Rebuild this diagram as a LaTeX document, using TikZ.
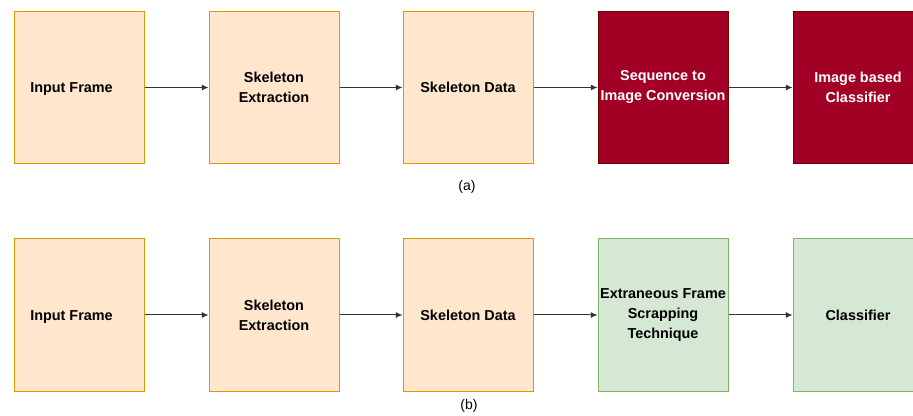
\documentclass[tikz,border=0pt]{standalone}
\usepackage{fontspec}
\setmainfont{Liberation Sans}
\usetikzlibrary{arrows.meta}
\definecolor{orfill}{HTML}{FFE6CC}
\definecolor{ordraw}{HTML}{D79B00}
\definecolor{rdfill}{HTML}{A20025}
\definecolor{rddraw}{HTML}{6F0000}
\definecolor{grfill}{HTML}{D5E8D4}
\definecolor{grdraw}{HTML}{82B366}
\definecolor{arr}{HTML}{333333}
\begin{document}
\begin{tikzpicture}[x=0.75pt,y=-0.75pt,
  box/.style={draw, line width=0.75pt, minimum width=97.5pt, minimum height=113.5pt, inner sep=0pt,
    align=center, font=\fontsize{10.8}{15}\selectfont\bfseries},
  orbox/.style={box, fill=orfill, draw=ordraw},
  rdbox/.style={box, fill=rdfill, draw=rddraw, text=white},
  grbox/.style={box, fill=grfill, draw=grdraw},
  txt/.style={font=\fontsize{10.8}{15}\selectfont\bfseries, align=center, inner sep=0pt},
  flow/.style={draw=arr, line width=0.75pt, -{Latex[length=5pt,width=4.5pt]}},
  captxt/.style={font=\fontsize{10.5}{12}\selectfont, inner sep=0pt}]
\useasboundingbox (0,0) rectangle (913,416);
% row a
\node[orbox] (a1) at (79,87.5) {};
\node[txt] (a1t) at (71.5,89.5) {Input Frame};
\node[orbox] (a2) at (274,87.5) {Skeleton\\Extraction};
\node[orbox] (a3) at (468,87.5) {Skeleton Data};
\node[rdbox] (a4) at (663,87.5) {Sequence to\\Image Conversion};
\node[rdbox] (a5) at (858,87.5) {Image based\\Classifier};
\draw[flow] (a1) -- (a2);
\draw[flow] (a2) -- (a3);
\draw[flow] (a3) -- (a4);
\draw[flow] (a4) -- (a5);
\node[captxt] (capa) at (467,187) {(a)};
% row b
\node[orbox, minimum height=114pt] (b1) at (79,315) {};
\node[txt] (b1t) at (71.5,317) {Input Frame};
\node[orbox, minimum height=114pt] (b2) at (274,315) {Skeleton\\Extraction};
\node[orbox, minimum height=114pt] (b3) at (468,315) {Skeleton Data};
\node[grbox, minimum height=114pt] (b4) at (663,315) {Extraneous Frame\\Scrapping\\Technique};
\node[grbox, minimum height=114pt] (b5) at (858,315) {Classifier};
\draw[flow] (b1) -- (b2);
\draw[flow] (b2) -- (b3);
\draw[flow] (b3) -- (b4);
\draw[flow] (b4) -- (b5);
\node[captxt] (capb) at (469,406) {(b)};
\end{tikzpicture}
\end{document}
